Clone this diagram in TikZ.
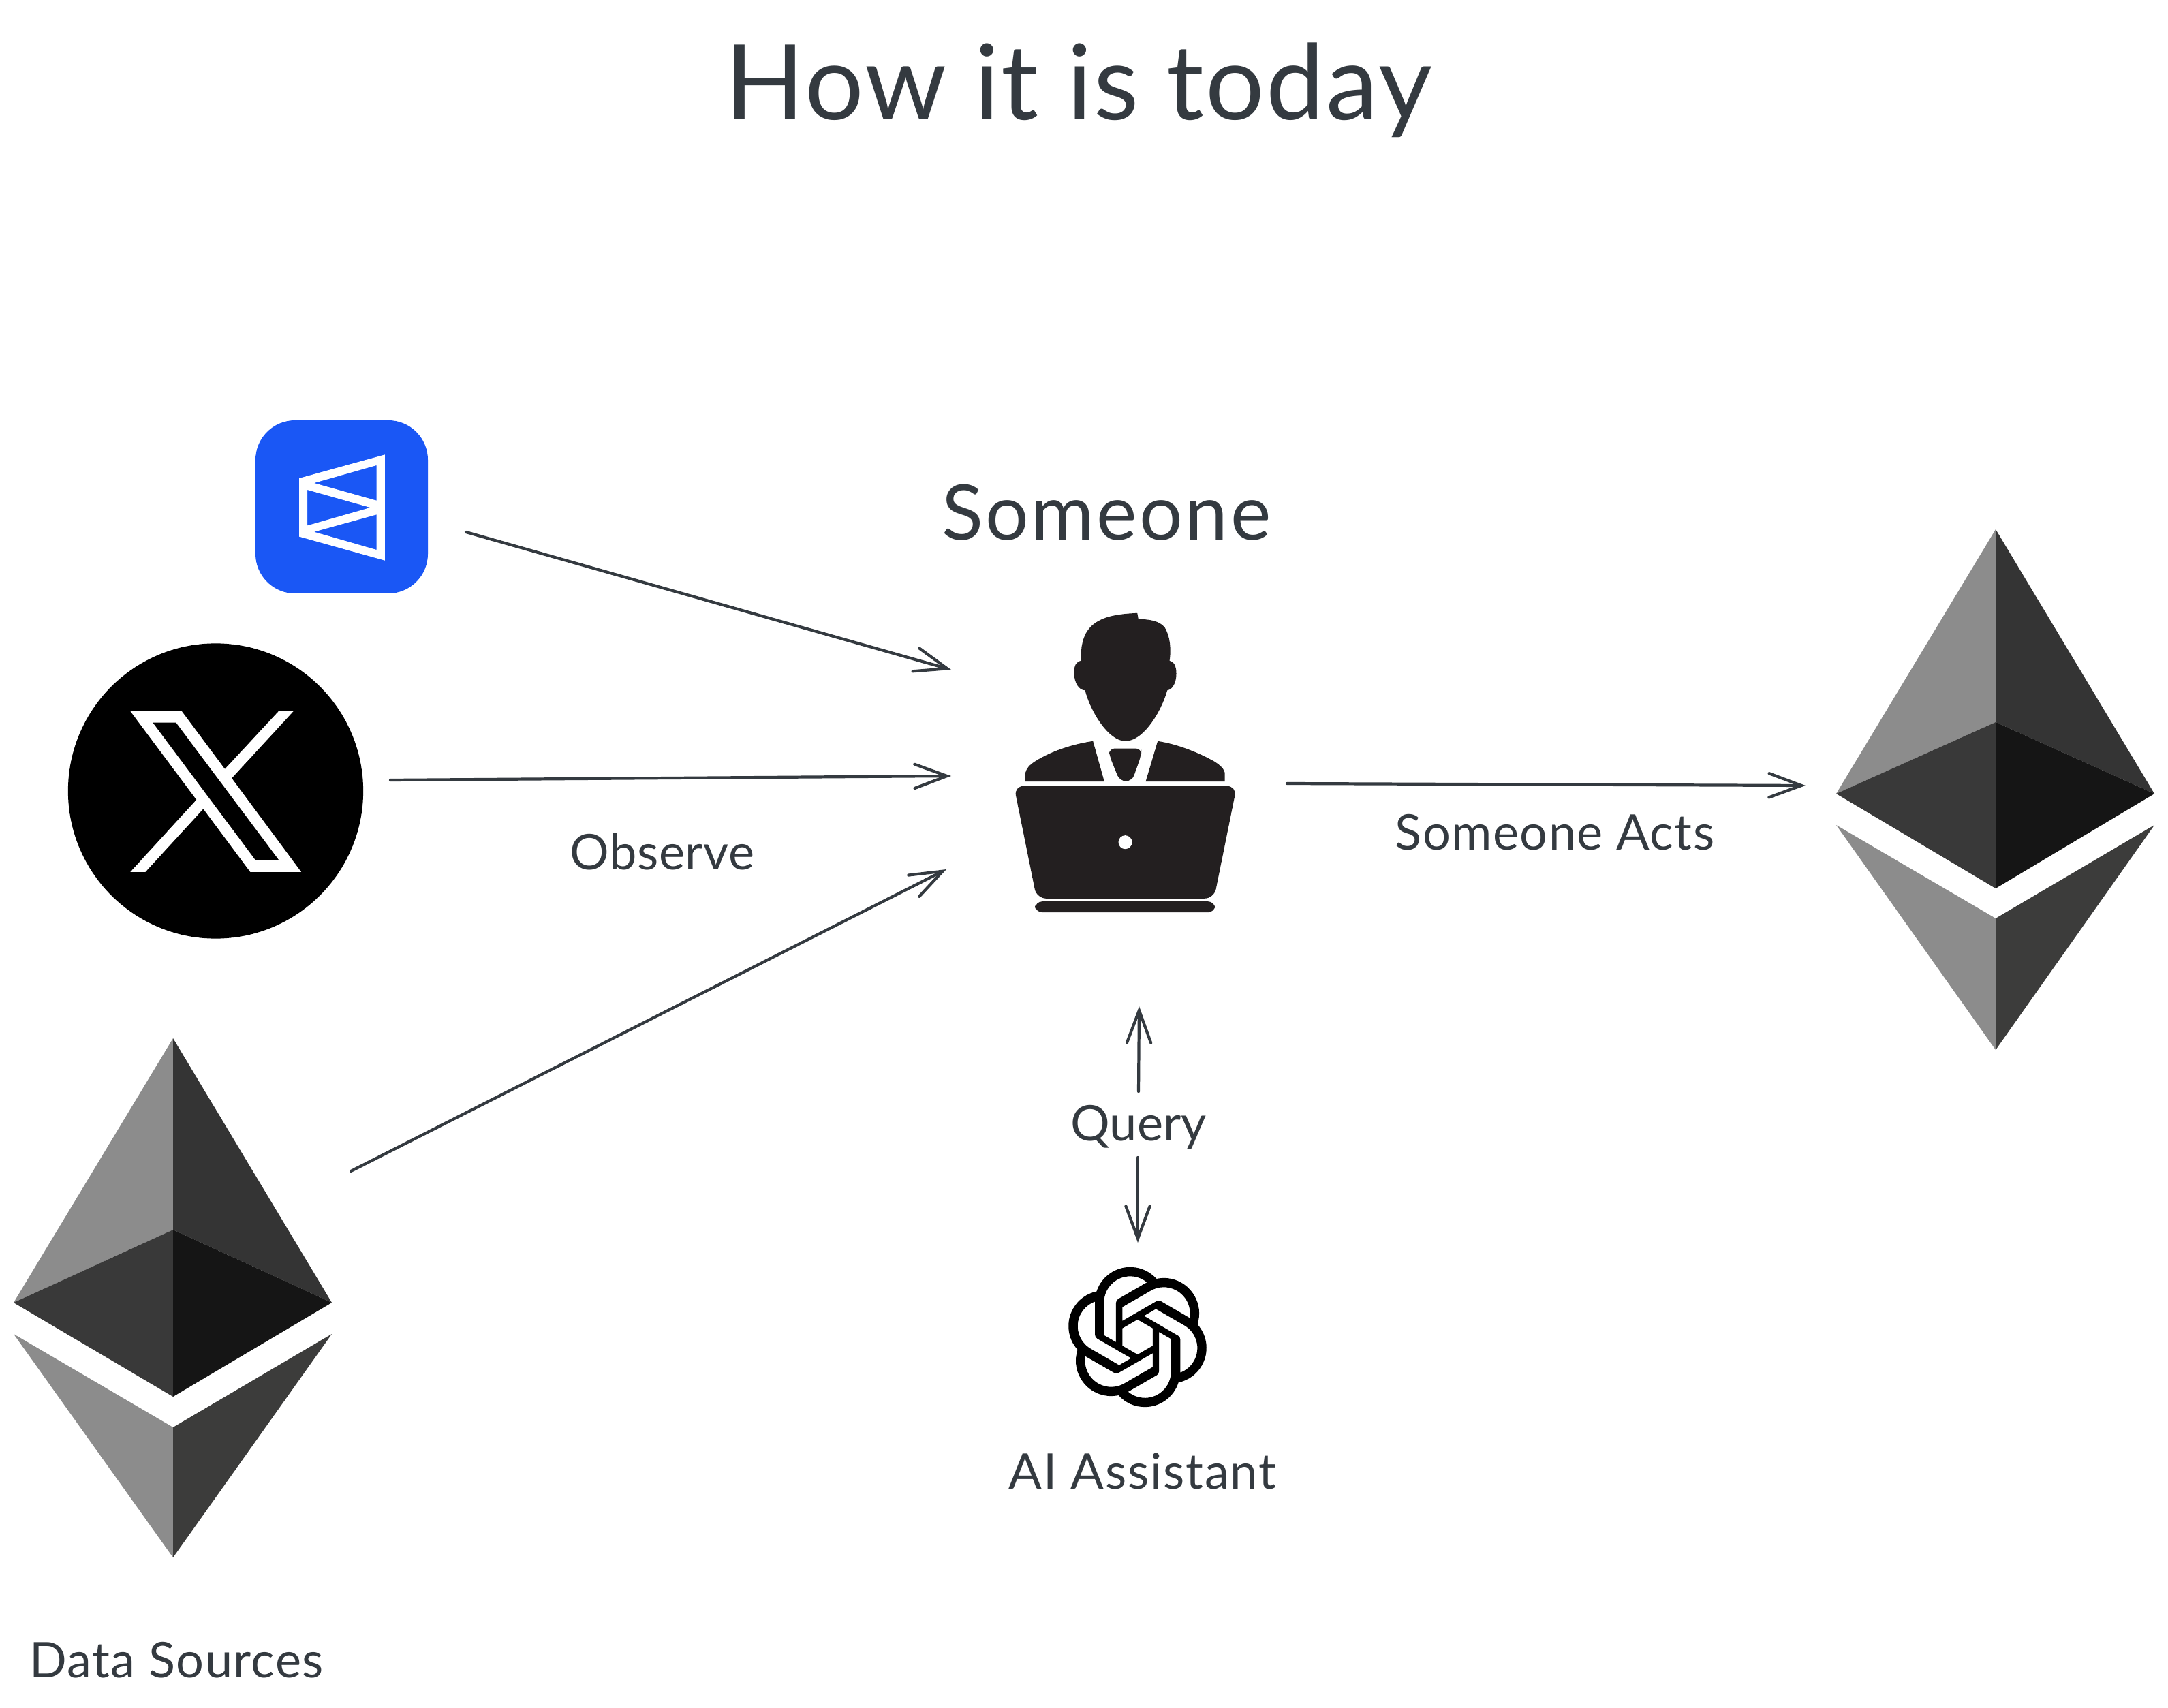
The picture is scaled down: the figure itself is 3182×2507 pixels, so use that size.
\documentclass[tikz,border=0pt]{standalone}
\usepackage{fontspec}
\setmainfont{Lato}
\usetikzlibrary{arrows.meta,svg.path}
\definecolor{ink}{HTML}{343A40}
\definecolor{ethlight}{HTML}{8C8C8C}
\definecolor{ethtr}{HTML}{343434}
\definecolor{ethml}{HTML}{393939}
\definecolor{ethmr}{HTML}{151515}
\definecolor{ethbr}{HTML}{3C3C3B}
\definecolor{personblack}{HTML}{231F20}
\definecolor{boxblue}{HTML}{1A57F5}
\tikzset{
  conn/.style={draw=ink,line width=1.2pt,line cap=round,-{Straight Barb[length=13.5pt,width=10pt,line cap=round]}},
  label/.style={text=ink,inner sep=0pt,anchor=base},
  small/.style={label,font={\fontsize{20.5pt}{24pt}\selectfont\addfontfeature{LetterSpace=#1}}},
}
\begin{document}
\begin{tikzpicture}[x=0.01cm,y=-0.01cm]
\useasboundingbox (0,0) rectangle (3182,2507);
\fill[white] (0,0) rectangle (3182,2507);

% Title
\node[label,font={\fontsize{43.5pt}{50pt}\selectfont\addfontfeature{LetterSpace=1.5}}] (title) at (1583,176) {How it is today};

% Blue box
\fill[boxblue,rounded corners=16.5pt] (375,617) rectangle (628,871);
\begin{scope}[xshift=3.6cm,yshift=-6cm,x=0.01cm/3,y=-0.01cm/3]
\fill[white,even odd rule] (237,305) -- (614,201) -- (614,667) -- (237,562) -- cycle
  (302,326) -- (577,248) -- (577,403) -- cycle
  (273,356) -- (550,434) -- (273,513) -- cycle
  (302,541) -- (577,465) -- (577,620) -- cycle;
\end{scope}

% X circle
\fill[black] (316.5,1161) circle (2.165cm);
\begin{scope}[xshift=0.9cm,yshift=-9.3cm,x=0.01cm/3,y=-0.01cm/3]
\fill[white,even odd rule] (304,340) -- (530,340) -- (720,595) -- (957,340) -- (1022,340) -- (750,635) -- (1056,1048) -- (832,1048) -- (625,770) -- (370,1048) -- (304,1048) -- (595,730) -- cycle
  (402,390) -- (505,390) -- (960,998) -- (856,998) -- cycle;
\end{scope}

% Ethereum, left
\fill[ethlight] (254,1524) -- (254,1805) -- (20,1912) -- cycle;
\fill[ethtr] (254,1524) -- (487,1912) -- (254,1805) -- cycle;
\fill[ethml] (254,1805) -- (254,2050) -- (20,1912) -- cycle;
\fill[ethmr] (254,1805) -- (487,1912) -- (254,2050) -- cycle;
\fill[ethlight] (20,1958) -- (254,2095) -- (254,2286) -- cycle;
\fill[ethbr] (487,1958) -- (254,2095) -- (254,2286) -- cycle;

% Ethereum, right
\fill[ethlight] (2929,777) -- (2929,1060) -- (2695,1165) -- cycle;
\fill[ethtr] (2929,777) -- (3162,1165) -- (2929,1060) -- cycle;
\fill[ethml] (2929,1060) -- (2929,1304) -- (2695,1165) -- cycle;
\fill[ethmr] (2929,1060) -- (3162,1165) -- (2929,1304) -- cycle;
\fill[ethlight] (2695,1211) -- (2929,1348) -- (2929,1541) -- cycle;
\fill[ethbr] (3162,1211) -- (2929,1348) -- (2929,1541) -- cycle;

% Person with laptop
\begin{scope}[xshift=14.5cm,yshift=-8.6cm,x=0.01cm/3,y=-0.01cm/3]
\fill[personblack] (655,118) .. controls (560,122) and (470,135) .. (430,205)
  .. controls (410,240) and (405,290) .. (408,328)
  .. controls (385,332) and (376,350) .. (377,385)
  .. controls (378,425) and (398,458) .. (425,458)
  .. controls (450,555) and (530,682) .. (603,682)
  .. controls (680,682) and (760,555) .. (787,458)
  .. controls (810,455) and (827,425) .. (827,385)
  .. controls (827,350) and (815,332) .. (797,328)
  .. controls (805,280) and (800,220) .. (775,180)
  .. controls (750,150) and (700,145) .. (660,145) -- cycle;
\fill[personblack] (460,682) -- (510,860) -- (163,860) -- (163,820)
  .. controls (170,795) and (190,780) .. (210,768)
  .. controls (280,725) and (370,695) .. (460,682) -- cycle;
\fill[personblack] (745,682) -- (692,860) -- (1040,860) -- (1040,820)
  .. controls (1035,800) and (1015,785) .. (995,772)
  .. controls (920,730) and (830,695) .. (745,682) -- cycle;
\fill[personblack,rounded corners=2.5pt] (530,714) -- (674,714) -- (672,745) -- (632,858) -- (578,858) -- (532,745) -- cycle;
\fill[personblack,rounded corners=4pt] (112,880) -- (1093,880) -- (993,1375) -- (212,1375) -- cycle;
\fill[white] (602,1127) circle (0.1cm);
\fill[personblack,rounded corners=3pt] (205,1388) rectangle (998,1436);
\end{scope}

% OpenAI logo
\path[fill=black,shift={(1669.5,1962.5)},yscale=-1,scale=2.433,xshift=-12pt,yshift=-12pt] svg {M 22.2819 9.8211 a 5.9847 5.9847 0 0 0 -0.5157 -4.9108 a 6.0462 6.0462 0 0 0 -6.5098 -2.9 A 6.0651 6.0651 0 0 0 4.9807 4.1818 a 5.9847 5.9847 0 0 0 -3.9977 2.9 a 6.0462 6.0462 0 0 0 0.7427 7.0966 a 5.98 5.98 0 0 0 0.511 4.9107 a 6.051 6.051 0 0 0 6.5146 2.9001 A 5.9847 5.9847 0 0 0 13.2599 24 a 6.0557 6.0557 0 0 0 5.7718 -4.2058 a 5.9894 5.9894 0 0 0 3.9977 -2.9001 a 6.0557 6.0557 0 0 0 -0.7475 -7.0729 z
M 13.2599 22.4292 a 4.4755 4.4755 0 0 1 -2.8764 -1.0408 l 0.1419 -0.0804 l 4.7783 -2.7582 a 0.7948 0.7948 0 0 0 0.3927 -0.6813 v -6.7369 l 2.02 1.1686 l 0.038 0.052 v 5.5826 a 4.504 4.504 0 0 1 -4.4945 4.4944 z
M 3.5992 18.3038 a 4.4708 4.4708 0 0 1 -0.5346 -3.0137 l 0.142 0.0852 l 4.783 2.7582 a 0.7712 0.7712 0 0 0 0.7806 0 l 5.8428 -3.3685 v 2.3324 l -0.0332 0.0615 L 9.74 19.9502 a 4.4992 4.4992 0 0 1 -6.1408 -1.6464 z
M 2.3408 7.8956 a 4.485 4.485 0 0 1 2.3655 -1.9728 V 11.6 a 0.7664 0.7664 0 0 0 0.3879 0.6765 l 5.8144 3.3543 l -2.0201 1.1685 l -0.071 0 l -4.8303 -2.7865 A 4.504 4.504 0 0 1 2.3408 7.872 z
M 18.9371 11.7514 L 13.1038 8.364 L 15.1192 7.2 l 0.071 0 l 4.8303 2.7913 a 4.4944 4.4944 0 0 1 -0.6765 8.1042 v -5.6772 a 0.79 0.79 0 0 0 -0.407 -0.667 z
M 20.9478 8.7283 l -0.142 -0.0852 l -4.7735 -2.7818 a 0.7759 0.7759 0 0 0 -0.7854 0 L 9.409 9.2297 V 6.8974 l 0.0284 -0.0615 l 4.8303 -2.7866 a 4.4992 4.4992 0 0 1 6.6802 4.66 z
M 8.3065 12.863 l -2.02 -1.1638 l -0.038 -0.0567 V 6.0742 a 4.4992 4.4992 0 0 1 7.3757 -3.4537 l -0.142 0.0805 L 8.704 5.459 a 0.7948 0.7948 0 0 0 -0.3927 0.6813 z
M 9.4041 10.4976 l 2.602 -1.4998 l 2.6069 1.4998 v 2.9994 l -2.5974 1.4997 l -2.6067 -1.4997 z};

% Labels
\node[label,font={\fontsize{32pt}{38pt}\selectfont\addfontfeature{LetterSpace=3}}] (someone) at (1624,793) {Someone};
\node[small=1] (observe) at (972,1276) {Observe};
\node[small=2] (acts) at (2282,1247) {Someone Acts};
\node[small=0] (query) at (1671,1674) {Query};
\node[small=2.5] (assistant) at (1677,2185) {AI Assistant};
\node[small=2] (sources) at (259,2462) {Data Sources};

% Connector ends
\coordinate (boxout) at (684,781);
\coordinate (personA) at (1396,983);
\coordinate (xout) at (573,1145);
\coordinate (personB) at (1396,1139);
\coordinate (ethout) at (515,1719);
\coordinate (personC) at (1389,1276);
\coordinate (personR) at (1889,1150);
\coordinate (ethin) at (2650,1153);
\coordinate (queryTop) at (1671,1602);
\coordinate (personD) at (1672,1477);
\coordinate (queryBot) at (1670,1699);
\coordinate (openai) at (1670,1824);

\draw[conn] (boxout) -- (personA);
\draw[conn] (xout) -- (personB);
\draw[conn] (ethout) -- (personC);
\draw[conn] (personR) -- (ethin);
\draw[conn] (queryTop) -- (personD);
\draw[conn] (queryBot) -- (openai);
\end{tikzpicture}
\end{document}
